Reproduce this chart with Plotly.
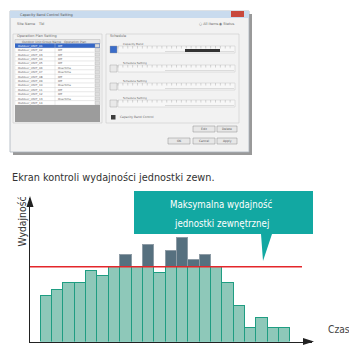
import plotly.graph_objects as go

W, H = 349, 345

# Capacity demand per time period, in % of the outdoor unit's maximum output
capacity = [61, 69, 78, 78, 95, 87, 100, 116, 100, 129, 92, 121,
            138, 109, 116, 100, 78, 48, 18, 32, 18, 18]
max_capacity = 100
periods = list(range(len(capacity)))

title_text = "Ekran kontroli wydajności jednostki zewn."
y_label = "Wydajność"
x_label = "Czas"
callout_lines = ["Maksymalna wydajność", "jednostki zewnętrznej"]

# Rows of the "Operation Plan Setting" table in the settings dialog
table_names = ["Outdoor_UNIT_01", "Outdoor_UNIT_02", "Outdoor_UNIT_03", "Outdoor_UNIT_04",
               "Outdoor_UNIT_05", "Outdoor_UNIT_06", "Outdoor_UNIT_07", "Outdoor_UNIT_08",
               "Outdoor_UNIT_09", "Outdoor_UNIT_10", "Outdoor_UNIT_11", "Outdoor_UNIT_12",
               "Outdoor_UNIT_13", "Outdoor_UNIT_14"]
table_values = ["Off", "Off", "Off", "Off", "Off", "Overtime", "Overtime", "Off",
                "Off", "Overtime", "Off", "Off", "Overtime", ""]

FONT = "DejaVu Sans Condensed, Liberation Sans Narrow, Arial Narrow, sans-serif"


def px(x):
    return x / W


def py(y):
    return 1 - y / H


within = [min(v, max_capacity) for v in capacity]
excess = [v - max_capacity if v > max_capacity else None for v in capacity]

fig = go.Figure()
fig.add_bar(x=periods, y=within, width=1,
            marker=dict(color="#8ec8b9", line=dict(color="#1f9d82", width=1.2)))
fig.add_bar(x=periods, y=excess, width=1,
            marker=dict(color="#56707f", line=dict(color="#8e9ca6", width=1.2)))

shapes = []
annotations = []


def rect(x0, y0, x1, y1, fill, line=None, lw=0.8, layer="above"):
    shapes.append(dict(type="rect", xref="paper", yref="paper",
                       x0=px(x0), x1=px(x1), y0=py(y0), y1=py(y1),
                       fillcolor=fill, layer=layer,
                       line=dict(color=line or fill, width=lw if line else 0)))


def hline(x0, x1, y, color, lw=0.6):
    shapes.append(dict(type="line", xref="paper", yref="paper",
                       x0=px(x0), x1=px(x1), y0=py(y), y1=py(y),
                       line=dict(color=color, width=lw)))


def vline(x, y0, y1, color, lw=0.6):
    shapes.append(dict(type="line", xref="paper", yref="paper",
                       x0=px(x), x1=px(x), y0=py(y0), y1=py(y1),
                       line=dict(color=color, width=lw)))


def poly(points, fill):
    d = "M " + " L ".join(f"{px(x)},{py(y)}" for x, y in points) + " Z"
    shapes.append(dict(type="path", xref="paper", yref="paper", path=d,
                       fillcolor=fill, line=dict(width=0)))


def tiny(x, y, text, size=4, color="#6b6b6b", anchor="left"):
    annotations.append(dict(x=px(x), y=py(y), xref="paper", yref="paper",
                            text=text, showarrow=False, xanchor=anchor, yanchor="middle",
                            font=dict(size=size, color=color, family="DejaVu Sans")))


# ---------- settings dialog window ----------
rect(13, 14, 252, 155, "rgba(70,70,70,0.55)", layer="below")
rect(10, 11, 249, 152, "#f2f2f2", "#a9b3bd", 0.8, layer="below")
rect(10, 11, 249, 18, "#c9dbee", layer="below")
rect(231, 11, 244, 17, "#c8493d", layer="below")
tiny(18, 14.5, "Capacity Band Control Setting", 3.5, "#555")
tiny(15, 24, "Site Name", 3.5)
tiny(36, 24, "Tbl", 3.5)
tiny(197, 24, "○ All Items", 3.5)
tiny(217, 24, "◉ Status", 3.5)

# left group: operation plan table
rect(13, 34, 102, 123, "#f2f2f2", "#c9c9c9", 0.6, layer="below")
tiny(15, 36, "Operation Plan Setting", 3.5)
rect(15, 39.5, 100, 43.5, "#e6e6e6", "#b9b9b9", 0.5)
tiny(20, 41.5, "Outdoor Unit Group Name", 3)
tiny(62, 41.5, "Operation Plan", 3)
row_h = 4.4
y_row = 43.5
for i, (nm, val) in enumerate(zip(table_names, table_values)):
    y0 = y_row + i * row_h
    if i == 0:
        rect(15, y0, 100, y0 + row_h, "#3567c6")
        tcol = "#ffffff"
    else:
        rect(15, y0, 100, y0 + row_h, "#ffffff", "#d3d3d3", 0.4)
        tcol = "#5e5e5e"
    tiny(16, y0 + row_h / 2, nm, 2.8, tcol)
    tiny(56, y0 + row_h / 2, val, 2.8, tcol)
    rect(95, y0 + 0.6, 99.5, y0 + row_h - 0.6, "#dedede", "#9a9a9a", 0.3)
rect(15, y_row + len(table_names) * row_h, 100, 122, "#9c9c9c")
vline(55, 39.5, y_row + len(table_names) * row_h, "#c9c9c9", 0.4)

# right group: schedule
rect(106, 34, 239, 123, "#f2f2f2", "#c9c9c9", 0.6, layer="below")
tiny(108, 36, "Schedule", 3.5)
for k, y0 in enumerate([43, 62, 80, 97]):
    rect(110, y0 + 3, 117, y0 + 10, "#3a6cc9" if k == 0 else "#e9e9e9", "#9a9a9a", 0.4)
    tiny(121, y0 + 1, "Capacity Band" if k == 0 else "Schedule Setting", 2.8)
    rect(118, y0 + 3, 235, y0 + 10, "#f7f7f7", "#bdbdbd", 0.4)
    for j in range(24):
        xx = 118 + j * (117 / 24)
        vline(xx, y0 + 3, y0 + 5.5, "#9a9a9a", 0.4)
    hline(165, 234, y0 + 8.5, "#b0b0b0", 0.4)
rect(185, 49, 220, 52, "#333333")
rect(111, 115, 115.5, 119.5, "#3d3d3d")
tiny(118, 117.2, "Capacity Band Control", 3)

for x0, x1, y0, y1, lab in [(193, 215, 126, 132, "Edit"), (217, 237, 126, 132, "Delete"),
                            (168, 190, 138, 144, "OK"), (193, 215, 138, 144, "Cancel"),
                            (217, 237, 138, 144, "Apply")]:
    rect(x0, y0, x1, y1, "#e7e7e7", "#8c8c8c", 0.5)
    tiny((x0 + x1) / 2, (y0 + y1) / 2, lab, 3, "#555", "center")

# ---------- capacity chart ----------
# limit line
shapes.append(dict(type="line", xref="paper", yref="y", x0=px(30), x1=px(302),
                   y0=max_capacity, y1=max_capacity,
                   line=dict(color="#e4262b", width=1.6), layer="above"))
# axis arrow heads
poly([(30, 196), (26.5, 207), (33.5, 207)], "#222222")
poly([(314, 341.5), (303, 338), (303, 345)], "#222222")
# callout box with pointer
poly([(134, 191), (313, 191), (313, 234), (272, 234), (263, 261), (261, 234), (134, 234)], "#12a8a2")

for line_text, yy in zip(callout_lines, [204, 223]):
    annotations.append(dict(x=px(222), y=py(yy), xref="paper", yref="paper",
                            text=line_text, showarrow=False, yanchor="middle",
                            font=dict(size=9.6, color="#ffffff", family=FONT)))
annotations.append(dict(x=px(10), y=py(177.5), xref="paper", yref="paper",
                        text=title_text, showarrow=False, xanchor="left",
                        font=dict(size=10.8, color="#333333", family=FONT)))
annotations.append(dict(x=px(13.5), y=py(222), xref="paper", yref="paper",
                        text=y_label, showarrow=False, textangle=-90,
                        font=dict(size=10.3, color="#333333", family=FONT)))
annotations.append(dict(x=px(326), y=py(337), xref="paper", yref="paper",
                        text=x_label, showarrow=False, xanchor="left",
                        font=dict(size=10.2, color="#444444", family=FONT)))

fig.update_layout(
    width=W, height=H, margin=dict(l=0, r=0, t=0, b=0),
    paper_bgcolor="#ffffff", plot_bgcolor="rgba(0,0,0,0)",
    barmode="stack", bargap=0, showlegend=False,
    shapes=shapes, annotations=annotations,
    xaxis=dict(domain=[px(30), px(312)], range=[-1.445, 23.40],
               showline=True, linecolor="#222222", linewidth=1.3,
               showticklabels=False, ticks="", showgrid=False, zeroline=False),
    yaxis=dict(domain=[py(341.5), py(198)], range=[0, 192],
               showline=True, linecolor="#222222", linewidth=1.3,
               showticklabels=False, ticks="", showgrid=False, zeroline=False),
)

fig.write_html("out.html")
